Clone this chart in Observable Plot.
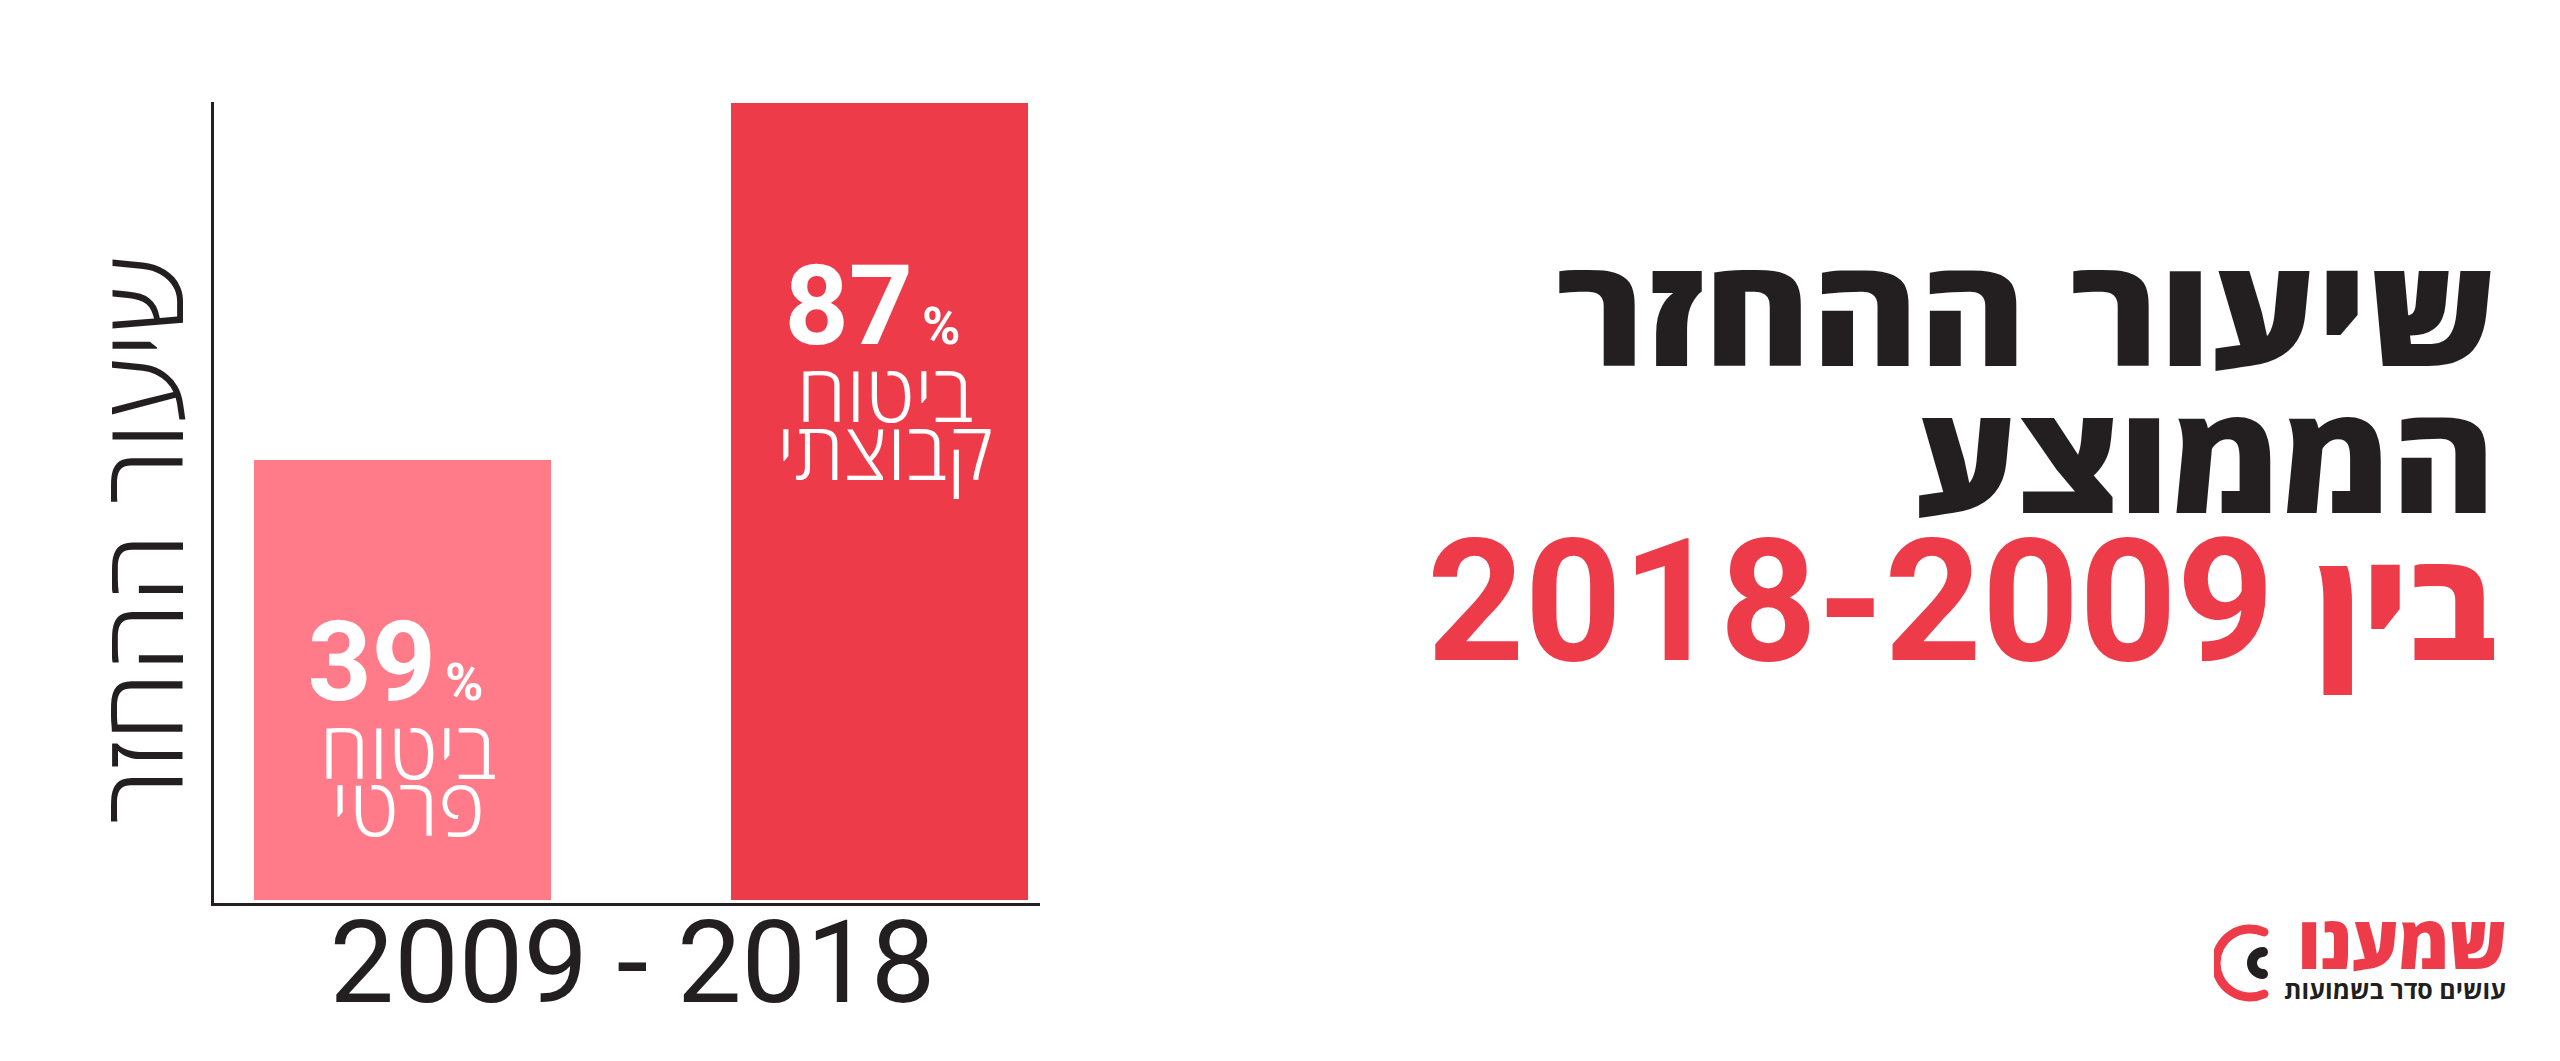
<!DOCTYPE html>
<html lang="he">
<head>
<meta charset="utf-8">
<script src="https://cdn.jsdelivr.net/npm/d3@7"></script>
<script src="https://cdn.jsdelivr.net/npm/@observablehq/plot@0.6"></script>
<style>
  html, body { margin: 0; padding: 0; background: #fff; }
  #page { position: relative; width: 2560px; height: 1061px; overflow: hidden; background: #fff; }
  #chart { position: absolute; left: 0; top: 0; }
  #title {
    position: absolute; right: 64px; top: 235px;
    direction: rtl; text-align: right;
    font-family: Roboto, "Open Sans", "Liberation Sans", sans-serif;
    font-weight: 700; font-size: 170px; line-height: 147px; color: #231F20;
    white-space: nowrap;
  }
  #title .line { display: inline-block; transform-origin: 100% 50%; }
  #title .wide { transform: scaleX(1.09); }
  #title .wide2 { transform: scaleX(1.06); }
  #title .he { font-family: "Open Sans", "Liberation Sans", sans-serif; font-weight: 800; font-size: 150px; }
  #title .red { color: #EE3B4A; }
  #logo { position: absolute; right: 54px; top: 905px; direction: rtl; text-align: right;
    font-family: "Open Sans", "Liberation Sans", sans-serif; white-space: nowrap; }
  #logo .name { color: #EE3B4A; font-weight: 800; font-size: 74px; line-height: 71px; letter-spacing: -1px; }
  #logo .tag { color: #231F20; font-weight: 700; font-size: 25px; line-height: 26px; }
  #logoMark { position: absolute; left: 2214px; top: 920px; }
</style>
</head>
<body>
<div id="page">
  <div id="chart"></div>
  <div id="title">
    <div><span class="line wide he">שיעור ההחזר</span></div>
    <div><span class="line wide2 he">הממוצע</span></div>
    <div class="red"><span class="he">בין</span> 2009&#x200F;-&#x200F;2018</div>
  </div>
  <svg id="logoMark" width="60" height="90" viewBox="0 0 60 90">
    <path d="M 50 12 A 34 34 0 1 0 50 74" fill="none" stroke="#EE3B4A" stroke-width="9" stroke-linecap="round"/>
    <path d="M 49 32 A 11 11 0 1 0 49 54" fill="none" stroke="#231F20" stroke-width="10" stroke-linecap="round"/>
  </svg>
  <div id="logo">
    <div class="name">שמענו</div>
    <div class="tag">עושים סדר בשמועות</div>
  </div>
</div>
<script>
// ---- data ----
const years = ["2009", "2018"];
const returnRates = [39, 87];                       // average return rate, %
const insuranceTypes = ["ביטוח\nפרטי", "ביטוח\nקבוצתי"];
const periodLabel = "2009 - 2018";
const axisTitle = "שיעור ההחזר";
const axisFloor = -20.7;                            // the graphic's value axis does not start at zero

const data = years.map((year, i) => ({year, value: returnRates[i], type: insuranceTypes[i]}));

const ink = "#231F20";
const chart = Plot.plot({
  width: 1100,
  height: 1061,
  marginTop: 103,
  marginBottom: 157,
  marginLeft: 212,
  marginRight: 62,
  style: {fontFamily: "Roboto, 'Open Sans', 'Liberation Sans', sans-serif", background: "transparent"},
  x: {domain: years, insetLeft: 41, insetRight: 10, paddingInner: 0.378, paddingOuter: 0, axis: null},
  y: {domain: [axisFloor, d3.max(returnRates)], axis: null},
  color: {domain: years, range: ["#FF7B8A", "#EE3B4A"]},
  marks: [
    Plot.barY(data, {x: "year", y1: axisFloor, y2: "value", fill: "year", insetBottom: 4}),
    Plot.frame({anchor: "left", stroke: ink, strokeWidth: 3}),
    Plot.frame({anchor: "bottom", stroke: ink, strokeWidth: 3}),
    Plot.text(data, {x: "year", y: "value", text: d => String(d.value), textAnchor: "end", lineAnchor: "bottom",
      dx: 33, dy: 240, fill: "white", fontSize: 112, fontWeight: 700}),
    Plot.text(data, {x: "year", y: "value", text: () => "%", textAnchor: "start", lineAnchor: "bottom",
      dx: 42, dy: 240, fill: "white", fontSize: 52, fontWeight: 700}),
    Plot.text(data, {x: "year", y: "value", text: "type", textAnchor: "middle", lineAnchor: "bottom",
      dx: 5, dy: 376, fill: "white", fontSize: 80, fontWeight: 300, lineHeight: 0.72,
      fontFamily: "'Open Sans', 'Liberation Sans', sans-serif"}),
    Plot.text([axisTitle], {text: d => d, frameAnchor: "left", textAnchor: "middle", lineAnchor: "middle",
      rotate: -90, dx: -65, dy: 36,
      fill: ink, fontSize: 112, fontWeight: 300, fontFamily: "'Open Sans', 'Liberation Sans', sans-serif"}),
    Plot.text([periodLabel], {text: d => d, frameAnchor: "bottom", lineAnchor: "top", dx: 7, dy: 16,
      fill: ink, fontSize: 115, fontWeight: 400})
  ]
});
document.getElementById("chart").append(chart);
</script>
</body>
</html>
